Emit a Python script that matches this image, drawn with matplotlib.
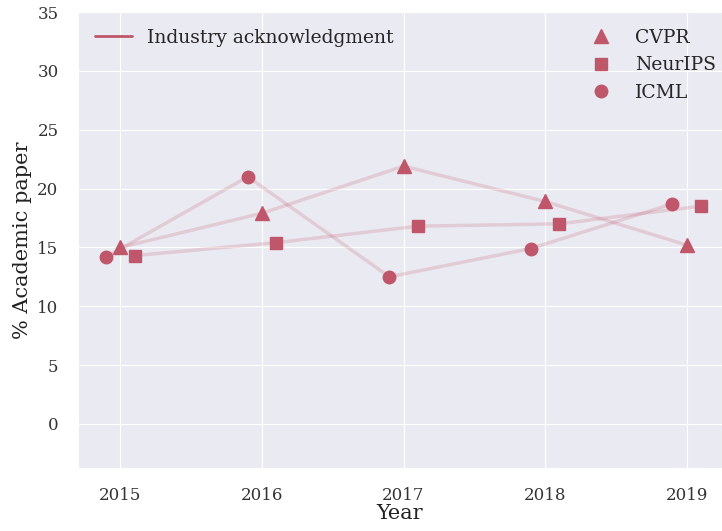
import numpy as np
import matplotlib
matplotlib.use("Agg")
import matplotlib.pyplot as plt
import seaborn as sns
from matplotlib.lines import Line2D

sns.set_style("darkgrid")
plt.rcParams['font.family'] = ['DejaVu Serif']

# Data
years = [2015, 2016, 2017, 2018, 2019]
conferences = ["CVPR", "NeurIPS", "ICML"]
cvpr = [15.0, 17.9, 21.9, 18.9, 15.2]
neurips = [14.3, 15.4, 16.8, 17.0, 18.5]
icml = [14.2, 21.0, 12.5, 14.9, 18.7]

series = [cvpr, neurips, icml]
markers = ["^", "s", "o"]
offsets = [0.0, 0.1, -0.1]
sizes = [10, 9, 9]
color = "#c0566a"

fig = plt.figure(figsize=(7.22, 5.31), dpi=100)
ax = fig.add_axes([0.108, 0.1186, 0.892, 0.8588])

handles = []
for name, vals, m, off, ms in zip(conferences, series, markers, offsets, sizes):
    x = np.array(years) + off
    ax.plot(x, vals, color=color, alpha=0.2, linewidth=2.5, zorder=2)
    ax.plot(x, vals, linestyle="none", marker=m, markersize=ms,
            color=color, zorder=3)
    handles.append(Line2D([], [], linestyle="none", marker=m,
                          markersize=ms, color=color, label=name))

leg1 = ax.legend(handles=[Line2D([], [], color=color, linewidth=2)],
                 labels=["Industry acknowledgment"], loc="upper left",
                 frameon=False, fontsize=13.5)
ax.add_artist(leg1)
ax.legend(handles=handles, loc="upper right", frameon=False, fontsize=13.5,
          labelspacing=0.5, bbox_to_anchor=(1.017, 1.0))

ax.set_xlim(2014.7, 2019.25)
ax.set_ylim(-3.75, 35)
ax.set_xticks(years)
ax.set_yticks([0, 5, 10, 15, 20, 25, 30, 35])
ax.tick_params(labelsize=12, pad=10.5, colors="#333333")
ax.set_xlabel("Year", fontsize=15, labelpad=0, color="#222222")
ax.set_ylabel("% Academic paper", fontsize=15, labelpad=4, color="#222222")

fig.savefig("out.png", dpi=100)
